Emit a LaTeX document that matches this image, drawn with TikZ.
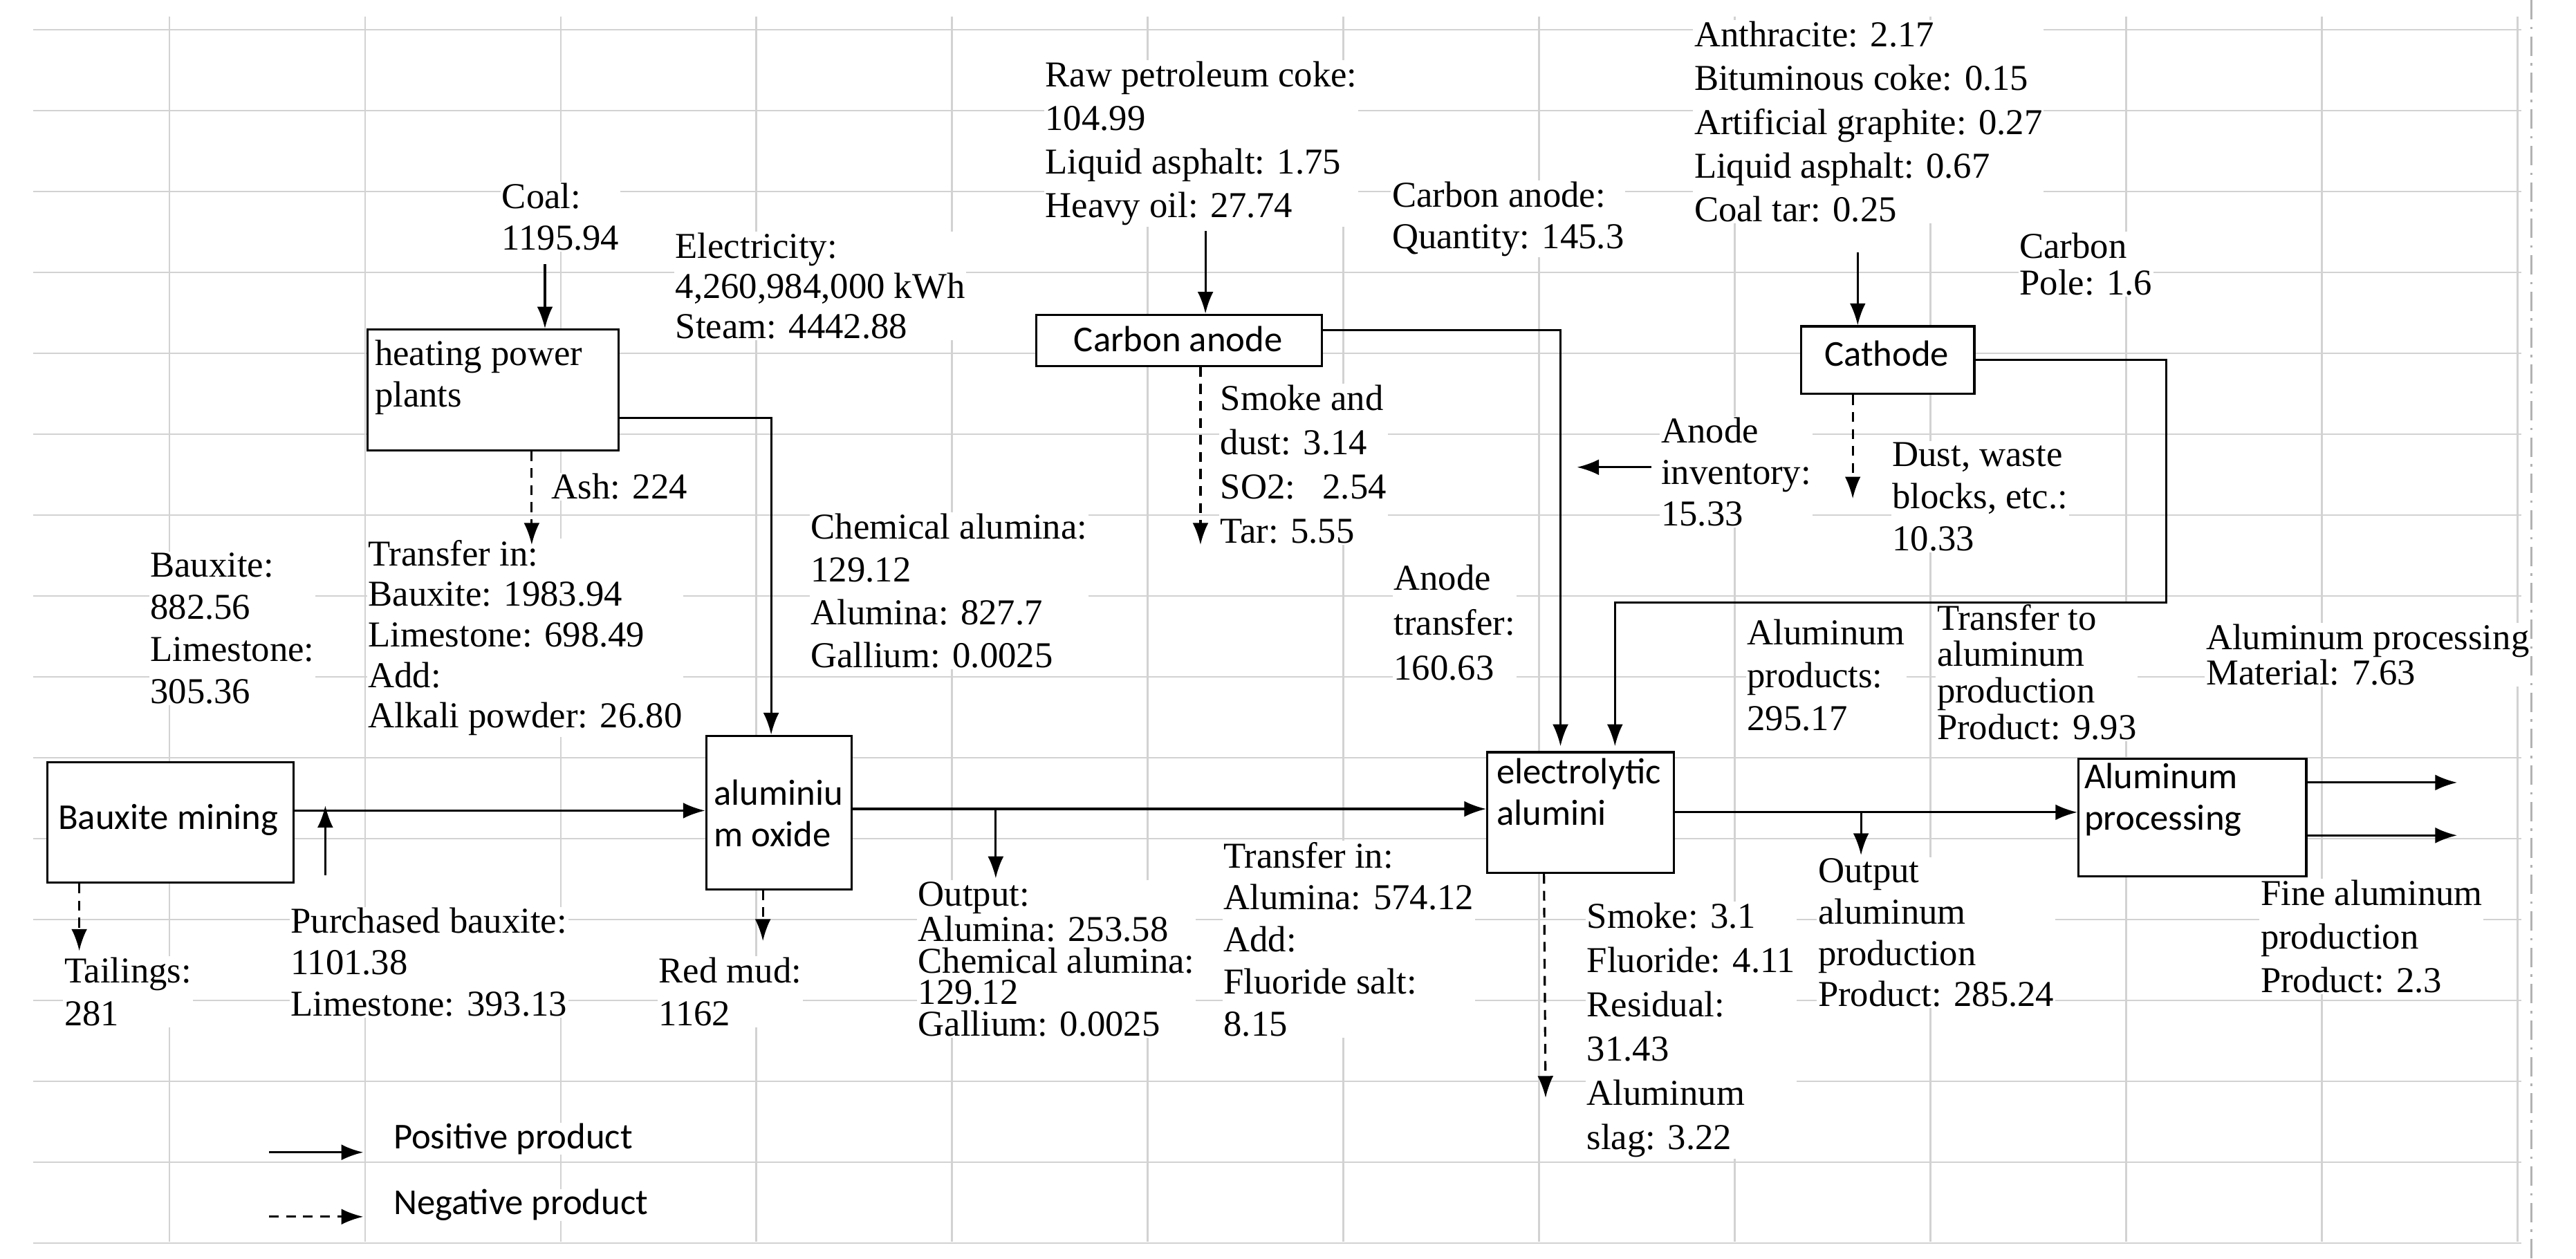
\documentclass[tikz,border=0pt]{standalone}
\usepackage{fontspec}
\setmainfont{Liberation Serif}
\newfontfamily\sfc{Carlito}
\usetikzlibrary{arrows.meta}
\begin{document}
\begin{tikzpicture}[x=0.02388cm,y=-0.02388cm,
  lbl/.style={anchor=north west,inner sep=0.5pt,align=left,fill=white,font=\fontsize{15}{#1pt}\selectfont},
  slbl/.style={anchor=north west,inner sep=0pt,align=left,font=\sfc\fontsize{15}{#1pt}\selectfont},
  box/.style={draw,line width=0.9pt,anchor=north west,inner sep=0,fill=white},
  posarr/.style={line width=0.9pt,-{Latex[length=9pt,width=6.5pt]}},
  negarr/.style={posarr,dash pattern=on 4pt off 3pt},
  gl/.style={draw=gray!35,line width=0.8pt}]
\useasboundingbox (0,0) rectangle (1560,762.6);
% grid
\foreach \k in {0,...,15} \draw[gl] (20,18+49*\k) -- (1527,18+49*\k);
\foreach \k in {0,...,12} \draw[gl] (102.6+118.5*\k,10) -- (102.6+118.5*\k,752);
\draw[gray!60,line width=0.8pt,dash pattern=on 8pt off 3pt on 1pt off 3pt] (1533,0) -- (1533,762);
% boxes
\node[box,minimum width={149*0.02388cm},minimum height={73*0.02388cm}] (bm) at (28,461) {};
\node[box,minimum width={152*0.02388cm},minimum height={73*0.02388cm}] (hpp) at (222,199) {};
\node[box,minimum width={88*0.02388cm},minimum height={93*0.02388cm}] (ao) at (427,445) {};
\node[box,minimum width={173*0.02388cm},minimum height={31*0.02388cm}] (ca) at (627,190) {};
\node[box,minimum width={105*0.02388cm},minimum height={41*0.02388cm}] (cat) at (1090,197) {};
\node[box,minimum width={113*0.02388cm},minimum height={73*0.02388cm}] (el) at (900,455) {};
\node[box,minimum width={138*0.02388cm},minimum height={71*0.02388cm}] (ap) at (1258,459) {};
% box labels
\node[slbl=17] (tbm) at (35,487) {Bauxite mining};
\node[lbl=17,fill=none] (thpp) at (226,205) {heating power\\plants};
\node[slbl=17] (tao) at (432,472) {aluminiu\\m oxide};
\node[slbl=17,anchor=center] (tca) at (713.5,205.5) {Carbon anode};
\node[slbl=17,anchor=center] (tcat) at (1142.5,214) {Cathode};
\node[slbl=17] (tel) at (906,459) {electrolytic\\alumini};
\node[slbl=17] (tap) at (1262,462) {Aluminum\\processing};
% labels
\node[lbl=17] (coal) at (303,110) {Coal:\\1195.94};
\node[lbl=16.5] (elec) at (408,140) {Electricity:\\4,260,984,000 kWh\\Steam: 4442.88};
\node[lbl=17] (ash) at (333,286) {Ash: 224};
\node[lbl=17.3] (bx) at (90,334) {Bauxite:\\882.56\\Limestone:\\305.36};
\node[lbl=16.7] (tin) at (222,326) {Transfer in:\\Bauxite: 1983.94\\Limestone: 698.49\\Add:\\Alkali powder: 26.80};
\node[lbl=17.7] (chem) at (490,310) {Chemical alumina:\\129.12\\Alumina: 827.7\\Gallium: 0.0025};
\node[lbl=17] (pb) at (175,549) {Purchased bauxite:\\1101.38\\Limestone: 393.13};
\node[lbl=17.7] (tail) at (38,579) {Tailings:\\281};
\node[lbl=17.7] (rm) at (398,579) {Red mud:\\1162};
\node[lbl=13] (out) at (555,533) {Output:\\Alumina: 253.58\\Chemical alumina:\\129.12\\Gallium: 0.0025};
\node[lbl=17.3] (tin2) at (740,509) {Transfer in:\\Alumina: 574.12\\Add:\\Fluoride salt:\\8.15};
\node[lbl=18] (raw) at (632,36) {Raw petroleum coke:\\104.99\\Liquid asphalt: 1.75\\Heavy oil: 27.74};
\node[lbl=17] (caq) at (842,109) {Carbon anode:\\Quantity: 145.3};
\node[lbl=18] (anth) at (1025,12) {Anthracite: 2.17\\Bituminous coke: 0.15\\Artificial graphite: 0.27\\Liquid asphalt: 0.67\\Coal tar: 0.25};
\node[lbl=15] (cp) at (1222,140) {Carbon\\Pole: 1.6};
\node[lbl=18.3] (smk) at (738,232) {Smoke and\\dust: 3.14\\SO2:\ \ \ 2.54\\Tar: 5.55};
\node[lbl=17] (ainv) at (1005,252) {Anode\\inventory:\\15.33};
\node[lbl=17.3] (dust) at (1145,267) {Dust, waste\\blocks, etc.:\\10.33};
\node[lbl=18.5] (atr) at (843,341) {Anode\\transfer:\\160.63};
\node[lbl=17.7] (alp) at (1057,374) {Aluminum\\products:\\295.17};
\node[lbl=15] (ttp) at (1172,365) {Transfer to\\aluminum\\production\\Product: 9.93};
\node[lbl=14.5] (apm) at (1335,377) {Aluminum processing\\Material: 7.63};
\node[lbl=18.2] (smk2) at (960,546) {Smoke: 3.1\\Fluoride: 4.11\\Residual:\\31.43\\Aluminum\\slag: 3.22};
\node[lbl=17] (oap) at (1100,519) {Output\\aluminum\\production\\Product: 285.24};
\node[lbl=18] (fap) at (1368,532) {Fine aluminum\\production\\Product: 2.3};
% connectors
\coordinate (c1) at (330,160);
\draw[posarr] (c1) -- (hpp.north -| c1);
\coordinate (c2) at (322,330);
\draw[negarr] (hpp.south -| c2) -- (c2);
\draw[posarr] (hpp.east |- 0,253) -| (ao.north -| 467,0);
\draw[posarr] (bm.east |- 0,491) -- (ao.west |- 0,491);
\coordinate (c3) at (197,530);
\draw[posarr] (c3) -- (197,488);
\coordinate (c4) at (48,576);
\draw[negarr] (bm.south -| c4) -- (c4);
\coordinate (c5) at (462,570);
\draw[negarr] (ao.south -| c5) -- (c5);
\draw[posarr] (ao.east |- 0,490) -- (el.west |- 0,490);
\coordinate (c6) at (603,532);
\draw[posarr] (603,490) -- (c6);
\coordinate (c7) at (730,140);
\draw[posarr] (c7) -- (ca.north -| c7);
\coordinate (c8) at (727,330);
\draw[negarr] (ca.south -| c8) -- (c8);
\draw[posarr] (ca.east |- 0,200) -| (945,452);
\coordinate (c9) at (1000,283);
\draw[posarr] (c9) -- (955,283);
\coordinate (c10) at (1125,153);
\draw[posarr] (c10) -- (cat.north -| c10);
\coordinate (c11) at (1122,302);
\draw[negarr] (cat.south -| c11) -- (c11);
\draw[posarr] (cat.east |- 0,218) -- (1312,218) -- (1312,365) -- (978,365) -- (978,452);
\draw[posarr] (el.east |- 0,492) -- (ap.west |- 0,492);
\coordinate (c12) at (1127,518);
\draw[posarr] (1127,492) -- (c12);
\coordinate (c13) at (936,665);
\draw[negarr] (el.south -| 935,0) -- (c13);
\coordinate (o1) at (1488,474);
\coordinate (o2) at (1488,506);
\draw[posarr] (ap.east |- o1) -- (o1);
\draw[posarr] (ap.east |- o2) -- (o2);
% legend
\coordinate (l1) at (163,698); \coordinate (l2) at (220,698);
\coordinate (l3) at (163,737); \coordinate (l4) at (220,737);
\draw[posarr] (l1) -- (l2);
\draw[negarr] (l3) -- (l4);
\node[slbl=15,fill=white] (lp) at (238,680) {Positive product};
\node[slbl=15,fill=white] (ln) at (238,720) {Negative product};
\end{tikzpicture}
\end{document}
